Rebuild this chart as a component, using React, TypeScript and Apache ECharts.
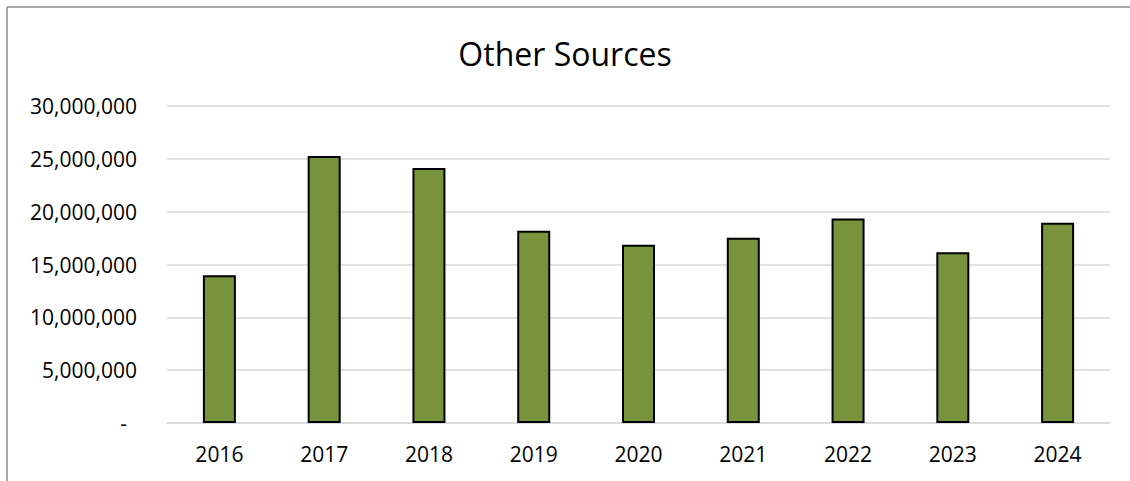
import React, { useEffect, useRef } from "react";
import * as echarts from "echarts";

const categories = ["2016", "2017", "2018", "2019", "2020", "2021", "2022", "2023", "2024"];
const values = [13980000, 25270000, 24130000, 18190000, 16860000, 17520000, 19350000, 16160000, 18950000];
const yTicks = { min: 0, max: 30000000, interval: 5000000 };
const titleText = "Other Sources";

const fmt = (v: number) => (v === 0 ? "{d|-}" : v.toLocaleString("en-US"));

export default function App() {
  const ref = useRef<HTMLDivElement>(null);
  useEffect(() => {
    if (!ref.current) return;
    const chart = echarts.init(ref.current, null, { renderer: "svg" });
    chart.setOption({
      animation: false,
      backgroundColor: "#ffffff",
      title: {
        text: titleText,
        left: "center",
        top: 28,
        textStyle: {
          fontFamily: "Open Sans",
          fontSize: 32,
          fontWeight: "normal",
          color: "#000000",
          lineHeight: 40,
        },
      },
      graphic: [
        {
          type: "line",
          shape: { x1: 7, y1: 7, x2: 1130, y2: 7 },
          style: { stroke: "#8a8a8a", lineWidth: 1.5 },
          silent: true,
        },
        {
          type: "line",
          shape: { x1: 7, y1: 7, x2: 7, y2: 481 },
          style: { stroke: "#8a8a8a", lineWidth: 1.5 },
          silent: true,
        },
      ],
      grid: { left: 167, right: 20, top: 106, bottom: 58, containLabel: false },
      xAxis: {
        type: "category",
        data: categories,
        axisLine: { lineStyle: { color: "#d9d9d9", width: 1.5 } },
        axisTick: { show: false },
        axisLabel: {
          margin: 20,
          fontFamily: "Open Sans",
          fontSize: 21,
          color: "#000000",
        },
      },
      yAxis: {
        type: "value",
        min: yTicks.min,
        max: yTicks.max,
        interval: yTicks.interval,
        axisLine: { show: false },
        axisTick: { show: false },
        splitLine: { lineStyle: { color: "#d9d9d9", width: 1.5 } },
        axisLabel: {
          margin: 30,
          fontFamily: "Open Sans",
          fontSize: 21,
          color: "#000000",
          formatter: fmt,
          rich: {
            d: { fontFamily: "Open Sans", fontSize: 21, color: "#000000", padding: [0, 10, 0, 0] },
          },
        },
      },
      series: [
        {
          type: "bar",
          data: values,
          barWidth: 33,
          itemStyle: { color: "#77933C", borderColor: "#000000", borderWidth: 2 },
        },
      ],
    });
    return () => chart.dispose();
  }, []);
  return (
    <div
      ref={ref}
      style={{ position: "fixed", left: 0, top: 0, width: 1130, height: 481 }}
    />
  );
}
